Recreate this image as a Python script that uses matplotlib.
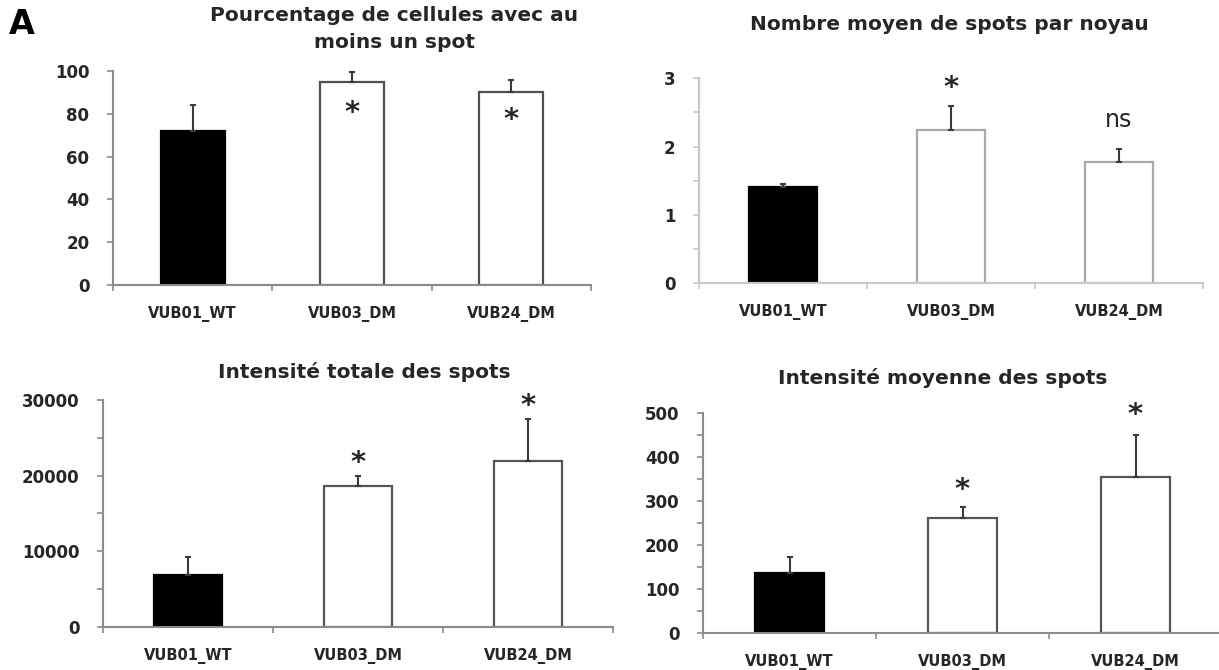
import matplotlib
matplotlib.use("Agg")
import matplotlib.pyplot as plt

categories = ["VUB01_WT", "VUB03_DM", "VUB24_DM"]

pct_values = [72, 95, 90.3]
pct_err = [12, 4.3, 5.5]
pct_marks = ["", "*", "*"]
pct_mark_y = [None, 82.7, 79.5]

nb_values = [1.41, 2.24, 1.78]
nb_err = [0.05, 0.35, 0.19]
nb_marks = ["", "*", "ns"]
nb_mark_y = [None, 2.93, 2.39]

tot_values = [6790, 18660, 21970]
tot_err = [2470, 1320, 5480]
tot_marks = ["", "*", "*"]
tot_mark_y = [None, 22330, 29900]

moy_values = [136, 260, 355]
moy_err = [37, 26, 94]
moy_marks = ["", "*", "*"]
moy_mark_y = [None, 336, 506]

W, H = 1219, 670
fig = plt.figure(figsize=(W / 100, H / 100), dpi=100)
FONT = "DejaVu Sans"
TXT = "#262626"


def px_axes(left, right, top, bottom):
    return fig.add_axes([left / W, 1 - bottom / H, (right - left) / W, (bottom - top) / H])


panels = [
    dict(box=(113, 591, 71, 285), vals=pct_values, err=pct_err, marks=pct_marks, my=pct_mark_y,
         ylim=(0, 100), major=[0, 20, 40, 60, 80, 100], minor=[], axcol="#8a8a8a", edge="#505050",
         title="Pourcentage de cellules avec au\nmoins un spot", tx=394, ty=29),
    dict(box=(699, 1203, 78.3, 283.3), vals=nb_values, err=nb_err, marks=nb_marks, my=nb_mark_y,
         ylim=(0, 3), major=[0, 1, 2, 3], minor=[0.5, 1.5, 2.5], axcol="#c8c8c8", edge="#a8a8a8",
         title="Nombre moyen de spots par noyau", tx=949, ty=25),
    dict(box=(103, 613, 400, 626.7), vals=tot_values, err=tot_err, marks=tot_marks, my=tot_mark_y,
         ylim=(0, 30000), major=[0, 10000, 20000, 30000], minor=[5000, 15000, 25000], axcol="#8a8a8a",
         edge="#555555", title="Intensité totale des spots", tx=364, ty=372),
    dict(box=(703, 1222, 412.7, 632.7), vals=moy_values, err=moy_err, marks=moy_marks, my=moy_mark_y,
         ylim=(0, 500), major=[0, 100, 200, 300, 400, 500], minor=[50, 150, 250, 350, 450], axcol="#8a8a8a",
         edge="#555555", title="Intensité moyenne des spots", tx=943, ty=378),
]

x = [0, 1, 2]
for p in panels:
    l, r, t, b = p["box"]
    ax = px_axes(l, r, t, b)
    colors = ["black", "white", "white"]
    edges = ["black", p["edge"], p["edge"]]
    ax.bar(x, p["vals"], width=0.4, color=colors, edgecolor=edges, linewidth=1.6, zorder=2)
    ax.errorbar(x, p["vals"], yerr=[[0, 0, 0], p["err"]], fmt="none", ecolor="#3a3a3a",
                elinewidth=1.5, capsize=2, capthick=1.5, zorder=3)
    for xi, m, yy in zip(x, p["marks"], p["my"]):
        if m == "*":
            ax.annotate("*", (xi, yy), xytext=(0, -5), textcoords="offset pixels",
                        ha="center", va="center", fontsize=21, fontweight="bold",
                        color=TXT, family=FONT, annotation_clip=False)
        elif m:
            ax.annotate(m, (xi, yy), xytext=(0, 0), textcoords="offset pixels",
                        ha="center", va="center", fontsize=17, color=TXT,
                        family=FONT, annotation_clip=False)
    ax.set_xlim(-0.5, 2.5)
    ax.set_ylim(*p["ylim"])
    for s in ["top", "right"]:
        ax.spines[s].set_visible(False)
    for s in ["left", "bottom"]:
        ax.spines[s].set_color(p["axcol"])
        ax.spines[s].set_linewidth(1.5)
    ax.set_yticks(p["major"])
    ax.set_yticks(p["minor"], minor=True)
    ax.set_yticklabels([str(v) for v in p["major"]], fontsize=12, fontweight="bold",
                       color=TXT, family=FONT)
    ax.tick_params(axis="y", which="both", direction="out", length=4, width=1.2,
                   color=p["axcol"], pad=13)
    ax.set_xticks(x)
    ax.set_xticklabels(categories, fontsize=10.5, fontweight="bold", color=TXT, family=FONT)
    ax.tick_params(axis="x", which="major", length=0, pad=15)
    ax.set_xticks([-0.5, 0.5, 1.5, 2.5], minor=True)
    ax.tick_params(axis="x", which="minor", direction="out", length=4, width=1.2, color=p["axcol"])
    ax.patch.set_alpha(0)
    fig.text(p["tx"] / W, 1 - p["ty"] / H, p["title"], ha="center", va="center",
             fontsize=14.5, fontweight="bold", color=TXT, family=FONT, linespacing=1.55)

fig.text(22 / W, 1 - 24 / H, "A", ha="center", va="center", fontsize=24,
         fontweight="bold", color="black", family=FONT)

fig.savefig("out.png", dpi=100, facecolor="white")
